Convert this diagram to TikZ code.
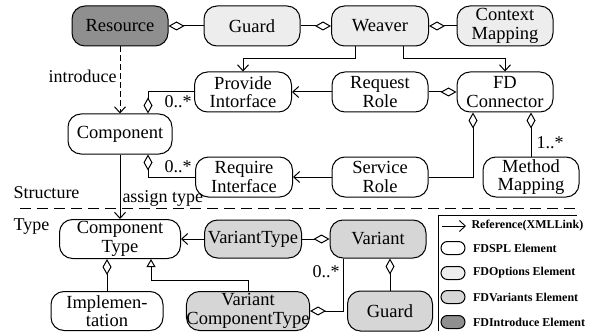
\documentclass[tikz,border=0pt]{standalone}
\usepackage{fontspec}
\setmainfont{Liberation Serif}
\usetikzlibrary{arrows.meta,calc}
\definecolor{optfill}{gray}{0.93}
\definecolor{varfill}{gray}{0.84}
\definecolor{intfill}{gray}{0.56}
\begin{document}
\begin{tikzpicture}[x=1pt,y=-1pt,line width=1pt,
  box/.style={draw,rounded corners=13pt,minimum height=40pt,inner sep=0pt,align=center,
    font=\fontsize{18.5}{18.5}\selectfont},
  fdspl/.style={box,fill=white},
  fdopt/.style={box,fill=optfill},
  fdvar/.style={box,fill=varfill},
  fdint/.style={box,fill=intfill},
  lbl/.style={inner sep=0pt,font=\fontsize{18}{18}\selectfont},
  ref/.style={-{Straight Barb[length=6pt,width=11pt]}},
  agg/.style={-{Diamond[open,length=16pt,width=9pt]}},
  inh/.style={-{Triangle[open,length=8pt,width=9pt]}},
  legsw/.style={draw,rounded corners=6.5pt,minimum width=24pt,minimum height=13pt,inner sep=0pt},
  legtxt/.style={inner sep=0pt,anchor=west,font=\fontsize{12}{12}\selectfont\bfseries}]
\useasboundingbox (0,0) rectangle (599,334);

% top row
\node[fdint,minimum width=96pt] (res) at (120,26) {Resource};
\node[fdopt,minimum width=96pt] (guardA) at (252,26) {Guard};
\node[fdopt,minimum width=97pt] (weaver) at (380,26) {Weaver};
\node[fdopt,minimum width=96pt] (ctx) at (505,26) {Context\\Mapping};
% second row
\node[fdspl,minimum width=97pt] (prov) at (243,92) {Provide\\Intorface};
\node[fdspl,minimum width=96pt] (req) at (380,92) {Request\\Role};
\node[fdspl,minimum width=96pt] (fdc) at (505,92) {FD\\Connector};
\node[fdspl,minimum width=104pt] (comp) at (120,134) {Component};
% third row
\node[fdspl,minimum width=97pt] (reqi) at (244,177) {Require\\Interface};
\node[fdspl,minimum width=96pt] (serv) at (380,177) {Service\\Role};
\node[fdspl,minimum width=96pt] (meth) at (531,177) {Method\\Mapping};
% type part
\node[fdspl,minimum width=121pt,minimum height=39pt] (ctype) at (120,239) {Component\\Type};
\node[fdvar,minimum width=97pt,minimum height=38pt] (vtype) at (253,239) {VariantType};
\node[fdvar,minimum width=96pt,minimum height=38pt] (var) at (378,239) {Variant};
\node[fdspl,minimum width=112pt,minimum height=39pt] (impl) at (107,311) {Implemen-\\tation};
\node[fdvar,minimum width=115pt,minimum height=39pt] (vct) at (248,311) {Variant\\ComponentType};
\node[fdvar,minimum width=85pt,minimum height=40pt] (guardB) at (390,311) {Guard};

% connectors, top
\draw[agg] (guardA.west) -- (res.east);
\draw[agg] (guardA.east) -- (weaver.west);
\draw[agg] (ctx.west) -- (weaver.east);
\draw[ref,dashed,dash pattern=on 6pt off 3pt] (res.south) -- (comp.north)
  node[midway,left,lbl,xshift=-3pt,yshift=4pt] {introduce};
\draw[ref] ([xshift=-25pt]weaver.south) -- ++(0,12) -| (prov.north);
\draw[ref] ([xshift=23pt]weaver.south) -- ++(0,12) -| (fdc.north);
\draw[agg] (prov.west) -| ([xshift=28pt]comp.north);
\node[lbl,anchor=north east] (m1) at ($(prov.west)+(-2,3)$) {0..*};
\draw[ref] (req.west) -- (prov.east);
\draw[agg] (req.east) -- (fdc.west);
\draw[agg] (reqi.west) -| ([xshift=28pt]comp.south);
\node[lbl,anchor=south east] (m2) at ($(reqi.west)+(-3,-4)$) {0..*};
\draw[ref] (serv.west) -- (reqi.east);
\draw[agg] (serv.east) -| ([xshift=-32pt]fdc.south);
\draw[agg] (meth.north) -- (meth.north |- fdc.south);
\node[lbl,anchor=west] (m3) at ($(meth.north)+(5,-14)$) {1..*};
\draw[ref] (comp.south) -- (ctype.north);
\node[lbl,anchor=west] (at) at ($(comp.south)+(2,44)$) {assign type};

% separator
\draw[dashed,dash pattern=on 11pt off 6pt] (20,208) -- (578,208);
\node[lbl,anchor=west] (st) at (13,193) {Structure};
\node[lbl,anchor=west] (ty) at (13,227) {Type};

% connectors, type
\draw[ref] (vtype.west) -- (ctype.east);
\draw[agg] (vtype.east) -- (var.west);
\draw[agg] (impl.north) -- (impl.north |- ctype.south);
\draw[inh] (vct.north) -- ++(0,-11) -| ([xshift=31pt]ctype.south);
\draw[agg] ([xshift=-35pt]var.south) |- (vct.east);
\node[lbl,anchor=east] (m4) at ($(var.south)+(-38,13)$) {0..*};
\draw[agg] (guardB.north) -- (guardB.north |- var.south);

% legend
\draw (438,331) -- (438,215) -- (577,215);
\coordinate (la) at (442,226);
\coordinate (lb) at (466,226);
\draw[ref,line width=0.9pt] (la) -- (lb);
\node[legtxt] (t0) at (471,226) {Reference(XMLLink)};
\node[legsw,fill=white] (s1) at (453,248) {};
\node[legtxt] (t1) at ($(s1.east)+(7,0)$) {FDSPL Element};
\node[legsw,fill=optfill] (s2) at (453,273) {};
\node[legtxt] (t2) at ($(s2.east)+(7,0)$) {FDOptions Element};
\node[legsw,fill=varfill] (s3) at (453,297) {};
\node[legtxt] (t3) at ($(s3.east)+(7,0)$) {FDVariants Element};
\node[legsw,fill=intfill] (s4) at (453,322) {};
\node[legtxt] (t4) at ($(s4.east)+(7,0)$) {FDIntroduce Element};
\end{tikzpicture}
\end{document}
